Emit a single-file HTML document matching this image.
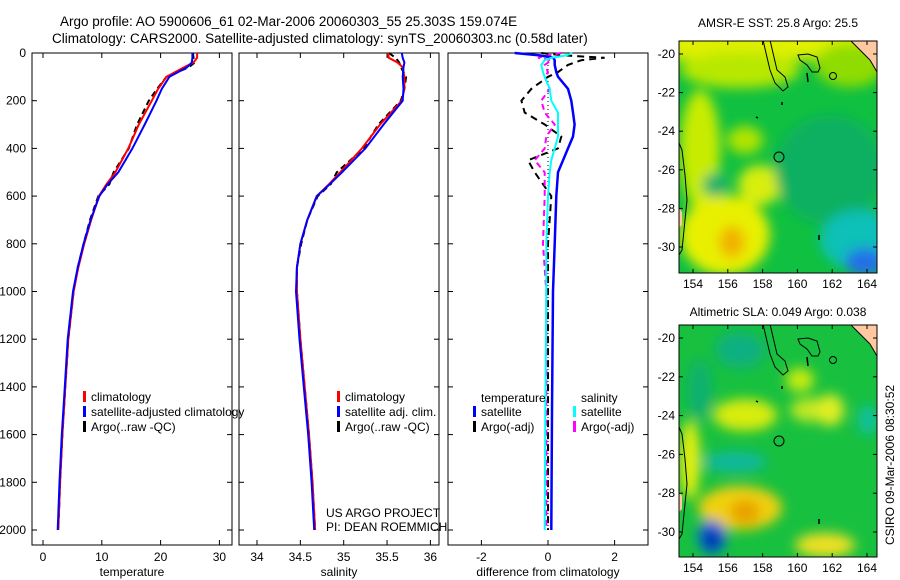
<!DOCTYPE html>
<html><head><meta charset="utf-8"><style>
body{margin:0;background:#fff;}
svg{display:block;font-family:"Liberation Sans",sans-serif;}
text{font-size:12px;fill:#000;}
</style></head><body>
<svg id="fig" width="900" height="580" viewBox="0 0 900 580">
<defs>
<filter id="bl" x="-20%" y="-20%" width="140%" height="140%"><feGaussianBlur stdDeviation="6"/></filter>
<clipPath id="c1"><rect x="679" y="41" width="198" height="232"/></clipPath>
<clipPath id="c2"><rect x="679" y="325" width="198" height="232"/></clipPath>
<g id="coast">
<path d="M763 40 L766 53 L770 70 L775 83 L783 91 L788 87 L785 77 L777 70 L773 53 L770 40" fill="none" stroke="#000"/>
<path d="M798 55 L808 54 L817 57 L820 68 L818 72 L812 72 L807 65 L800 60 Z" fill="none" stroke="#000"/>
<path d="M807 73 L808 82 M782 102 L782 105 M756 117 L758 118 M819 235 L819 240" stroke="#000" stroke-width="1.5"/>
<circle cx="833" cy="76" r="3.5" fill="none" stroke="#000"/>
<path d="M850 40 L862 52 L870 60 L877 72 L877 40 Z" fill="#ffc8a0"/>
<path d="M850 40 L862 52 L870 60 L877 72" fill="none" stroke="#000"/>
<path d="M679 143 L682 150 L685 175 L687 200 L684 230 L682 250 L679 255" fill="none" stroke="#000"/>
<path d="M679 208 L682 212 L682 225 L679 228 Z" fill="#ffc8a0"/>
</g>
</defs>
<text x="60" y="26" style="font-size:13.5px">Argo profile: AO 5900606_61 02-Mar-2006 20060303_55 25.303S 159.074E</text>
<text x="52" y="43" style="font-size:13.5px">Climatology: CARS2000. Satellite-adjusted climatology: synTS_20060303.nc (0.58d later)</text>

<g id="p1"></g>
<g id="p2"></g>
<g id="p3"></g>

<g>
<text x="778" y="27" text-anchor="middle">AMSR-E SST: 25.8 Argo: 25.5</text>
<g clip-path="url(#c1)">
<rect x="679" y="41" width="198" height="232" fill="#10c040"/>
<g filter="url(#bl)">
<rect x="670" y="30" width="220" height="30" fill="#e0f000"/>
<ellipse cx="740" cy="70" rx="60" ry="18" fill="#b8e800"/>
<ellipse cx="850" cy="65" rx="35" ry="22" fill="#90dc00"/>
<ellipse cx="700" cy="150" rx="20" ry="60" fill="#c8ec00"/>
<ellipse cx="725" cy="235" rx="45" ry="40" fill="#e8f000"/>
<ellipse cx="732" cy="242" rx="13" ry="16" fill="#f2b000"/>
<ellipse cx="760" cy="185" rx="22" ry="20" fill="#d8ee10"/>
<ellipse cx="745" cy="140" rx="18" ry="14" fill="#b0e400"/>
<ellipse cx="830" cy="170" rx="55" ry="55" fill="#10b060"/>
<ellipse cx="860" cy="240" rx="40" ry="30" fill="#10c0b8"/>
<ellipse cx="865" cy="262" rx="20" ry="14" fill="#2070e8"/>
<ellipse cx="715" cy="185" rx="12" ry="12" fill="#10b070"/>
</g>
</g>
<use href="#coast" clip-path="url(#c1)"/>
<rect x="679" y="41" width="198" height="232" fill="none" stroke="#000"/>
<circle cx="779" cy="157" r="5" fill="none" stroke="#000"/>
</g>
<g>
<text x="778" y="316" text-anchor="middle">Altimetric SLA: 0.049 Argo: 0.038</text>
<g clip-path="url(#c2)">
<rect x="679" y="325" width="198" height="232" fill="#18c040"/>
<g filter="url(#bl)">
<ellipse cx="740" cy="350" rx="25" ry="18" fill="#10b080"/>
<ellipse cx="700" cy="390" rx="12" ry="30" fill="#10b070"/>
<ellipse cx="735" cy="462" rx="32" ry="10" fill="#10b8a0"/>
<ellipse cx="745" cy="415" rx="32" ry="16" fill="#d8ec10"/>
<ellipse cx="800" cy="380" rx="14" ry="12" fill="#c8ec10"/>
<ellipse cx="810" cy="410" rx="20" ry="12" fill="#c0e820"/>
<ellipse cx="830" cy="410" rx="14" ry="16" fill="#e0ee20"/>
<ellipse cx="868" cy="420" rx="10" ry="15" fill="#10c0a0"/>
<ellipse cx="740" cy="508" rx="42" ry="22" fill="#f0d010"/>
<ellipse cx="745" cy="512" rx="15" ry="12" fill="#e8a000"/>
<ellipse cx="825" cy="545" rx="30" ry="12" fill="#f0e020"/>
<ellipse cx="690" cy="460" rx="10" ry="40" fill="#e8f010"/>
<ellipse cx="712" cy="537" rx="14" ry="17" fill="#1060e0"/>
<ellipse cx="712" cy="540" rx="6" ry="9" fill="#001090"/>
</g>
</g>
<use href="#coast" transform="translate(0,284)" clip-path="url(#c1)"/>
<rect x="679" y="325" width="198" height="232" fill="none" stroke="#000"/>
<circle cx="779" cy="441" r="5" fill="none" stroke="#000"/>
</g>
<text transform="translate(894,465) rotate(-90)" text-anchor="middle">CSIRO 09-Mar-2006 08:30:52</text>
<g id="maxes"></g>
</svg>
<script>
const depths=[0,20,40,60,100,150,200,300,400,500,550,600,700,800,900,1000,1200,1400,1600,1800,2000];
const tempClim=[26.2,26.2,25.6,24.0,21.0,19.6,18.5,16.3,14.5,12.3,10.8,9.5,8.2,7.0,6.0,5.2,4.3,3.8,3.3,2.9,2.6];
const tempSat=[25.4,25.4,25.3,24.5,21.5,20.2,19.3,17.3,15.2,12.8,11.0,9.6,8.1,6.9,5.9,5.1,4.2,3.7,3.2,2.8,2.5];
const tempArgo=[25.5,25.6,25.8,24.8,21.0,19.4,18.0,16.0,14.6,12.0,11.3,9.4,8.0,6.9,5.9,5.2,4.3,3.8,3.3,2.9,2.6];
const salClim=[35.51,35.52,35.62,35.68,35.70,35.70,35.67,35.42,35.21,34.96,34.83,34.69,34.58,34.50,34.46,34.46,34.50,34.55,34.60,34.64,34.67];
const salSat=[35.67,35.68,35.70,35.69,35.68,35.69,35.68,35.46,35.25,34.98,34.84,34.69,34.58,34.50,34.46,34.45,34.49,34.54,34.59,34.63,34.66];
const salArgo=[35.52,35.60,35.64,35.66,35.72,35.70,35.66,35.40,35.23,34.92,34.85,34.70,34.58,34.51,34.46,34.46,34.50,34.55,34.60,34.64,34.67];
const diffDepths=[0,10,20,30,50,80,100,150,200,250,300,350,400,450,500,600,800,1000,1500,2000];
const dTempSat=[-1.0,-0.25,0.16,0.2,0.2,0.25,0.3,0.6,0.7,0.75,0.8,0.75,0.6,0.45,0.3,0.25,0.2,0.15,0.12,0.1];
const dSalSat=[0.73,0.55,0.1,-0.1,-0.2,-0.15,-0.1,0.05,0.1,0.3,0.3,0.3,0.2,0.1,0.05,0,-0.05,-0.05,-0.08,-0.1];
const dTempArgo=[-0.2,0.5,1.7,1.0,0.6,0.3,0,-0.5,-0.8,-0.7,-0.1,0.4,0.3,-0.6,-0.4,0.1,0,0,0,0];
const dSalArgo=[0.4,0,-0.3,0.1,-0.1,0,-0.1,0.05,-0.2,-0.1,0.2,-0.05,-0.1,-0.4,-0.1,-0.1,-0.15,-0.05,-0.05,-0.05];
const depthTicks=[0,200,400,600,800,1000,1200,1400,1600,1800,2000];
const tempTicks=[0,10,20,30];
const salTicks=[34,34.5,35,35.5,36];
const diffTicks=[-2,0,2];
const latTicks=[-20,-22,-24,-26,-28,-30];
const lonTicks=[154,156,158,160,162,164];

const NS='http://www.w3.org/2000/svg';
const TOP=53,BOT=545;
const yD=d=>TOP+d*477/2000;
function el(p,t,a){const e=document.createElementNS(NS,t);for(const k in a)e.setAttribute(k,a[k]);p.appendChild(e);return e;}
function panel(g,x0,x1,xs,xticks,label,yl,name){
  const r=el(g,'rect',{x:x0,y:TOP,width:x1-x0,height:BOT-TOP,fill:'none',stroke:'#000'});
  
  
  xticks.forEach(v=>{const x=xs(v);
    el(g,'line',{x1:x,x2:x,y1:BOT,y2:BOT-5,stroke:'#000'});el(g,'line',{x1:x,x2:x,y1:TOP,y2:TOP+5,stroke:'#000'});
    const t=el(g,'text',{x:x,y:BOT+16,'text-anchor':'middle'});t.textContent=v;
    
    });
  depthTicks.forEach(v=>{const y=yD(v);
    el(g,'line',{x1:x0,x2:x0+5,y1:y,y2:y,stroke:'#000'});el(g,'line',{x1:x1,x2:x1-5,y1:y,y2:y,stroke:'#000'});
    if(yl){const t=el(g,'text',{x:x0-6,y:y+4,'text-anchor':'end'});t.textContent=v;
    
    }});
  const t=el(g,'text',{x:(x0+x1)/2,y:BOT+31,'text-anchor':'middle'});t.textContent=label;
  
  
}
function line(g,xs,vals,ds,col,w,dash,name){
  const d=vals.map((v,i)=>(i?'L':'M')+xs(v).toFixed(1)+' '+yD(ds[i]).toFixed(1)).join(' ');
  const p=el(g,'path',{d:d,fill:'none',stroke:col,'stroke-width':w});
  if(dash)p.setAttribute('stroke-dasharray',dash);
  
  
}
function legend(g,x,y,items){
  items.forEach((it,i)=>{el(g,'rect',{x:x,y:y+i*15-10,width:3,height:11,fill:it[0]});
    const t=el(g,'text',{x:x+8,y:y+i*15});t.textContent=it[1];
    
    });
}
const p1=document.getElementById('p1'),p2=document.getElementById('p2'),p3=document.getElementById('p3');
const xT=v=>43+v*5.88, xS=v=>257+(v-34)*86.7, xF=v=>548+v*33.3;
panel(p1,32,232,xT,tempTicks,'temperature',true,'temperature');
line(p1,xT,tempArgo,depths,'#000',2,'6 4','temp-argo-line');
line(p1,xT,tempClim,depths,'#f00',2,null,'temp-climatology-line');
line(p1,xT,tempSat,depths,'#00f',2,null,'temp-satellite-line');
legend(p1,83,401,[['#f00','climatology'],['#00f','satellite-adjusted climatology'],['#000','Argo(..raw -QC)']]);
panel(p2,239,439,xS,salTicks,'salinity',false,'salinity');
line(p2,xS,salArgo,depths,'#000',2,'6 4','sal-argo-line');
line(p2,xS,salClim,depths,'#f00',2,null,'sal-climatology-line');
line(p2,xS,salSat,depths,'#00f',2,null,'sal-satellite-line');
legend(p2,337,401,[['#f00','climatology'],['#00f','satellite adj. clim.'],['#000','Argo(..raw -QC)']]);
const a=el(p2,'text',{x:326,y:517});a.textContent='US ARGO PROJECT';


const b=el(p2,'text',{x:326,y:531});b.textContent='PI: DEAN ROEMMICH';


panel(p3,448,648,xF,diffTicks,'difference from climatology',false,'difference');
el(p3,'line',{x1:548,x2:548,y1:TOP,y2:BOT-15,stroke:'#000','stroke-dasharray':'1 3'});
line(p3,xF,dTempArgo,diffDepths,'#000',2,'7 5','diff-temp-argo-line');
line(p3,xF,dSalArgo,diffDepths,'#f0f',2,'6 4','diff-sal-argo-line');
line(p3,xF,dTempSat,diffDepths,'#00f',2.5,null,'diff-temp-satellite-line');
line(p3,xF,dSalSat,diffDepths,'#0ff',2,null,'diff-sal-satellite-line');
const tt=el(p3,'text',{x:481,y:402});tt.textContent='temperature';


const st=el(p3,'text',{x:581,y:402});st.textContent='salinity';


legend(p3,473,416,[['#00f','satellite'],['#000','Argo(-adj)']]);
legend(p3,573,416,[['#0ff','satellite'],['#f0f','Argo(-adj)']]);
const mx=document.getElementById('maxes');
[[41,273,54,247],[325,557,338,532]].forEach(m=>{
  const yl=v=>m[2]+(-20-v)*(m[3]-m[2])/10;
  latTicks.forEach(v=>{const y=yl(v);
    el(mx,'line',{x1:679,x2:683,y1:y,y2:y,stroke:'#000'});el(mx,'line',{x1:877,x2:873,y1:y,y2:y,stroke:'#000'});
    const t=el(mx,'text',{x:675,y:y+4,'text-anchor':'end'});t.textContent=v;
    
    });
  lonTicks.forEach(v=>{const x=693+(v-154)*17.4;
    el(mx,'line',{x1:x,x2:x,y1:m[1],y2:m[1]-4,stroke:'#000'});el(mx,'line',{x1:x,x2:x,y1:m[0],y2:m[0]+4,stroke:'#000'});
    const t=el(mx,'text',{x:x,y:m[1]+15,'text-anchor':'middle'});t.textContent=v;
    
    });
});
</script>
</body></html>
